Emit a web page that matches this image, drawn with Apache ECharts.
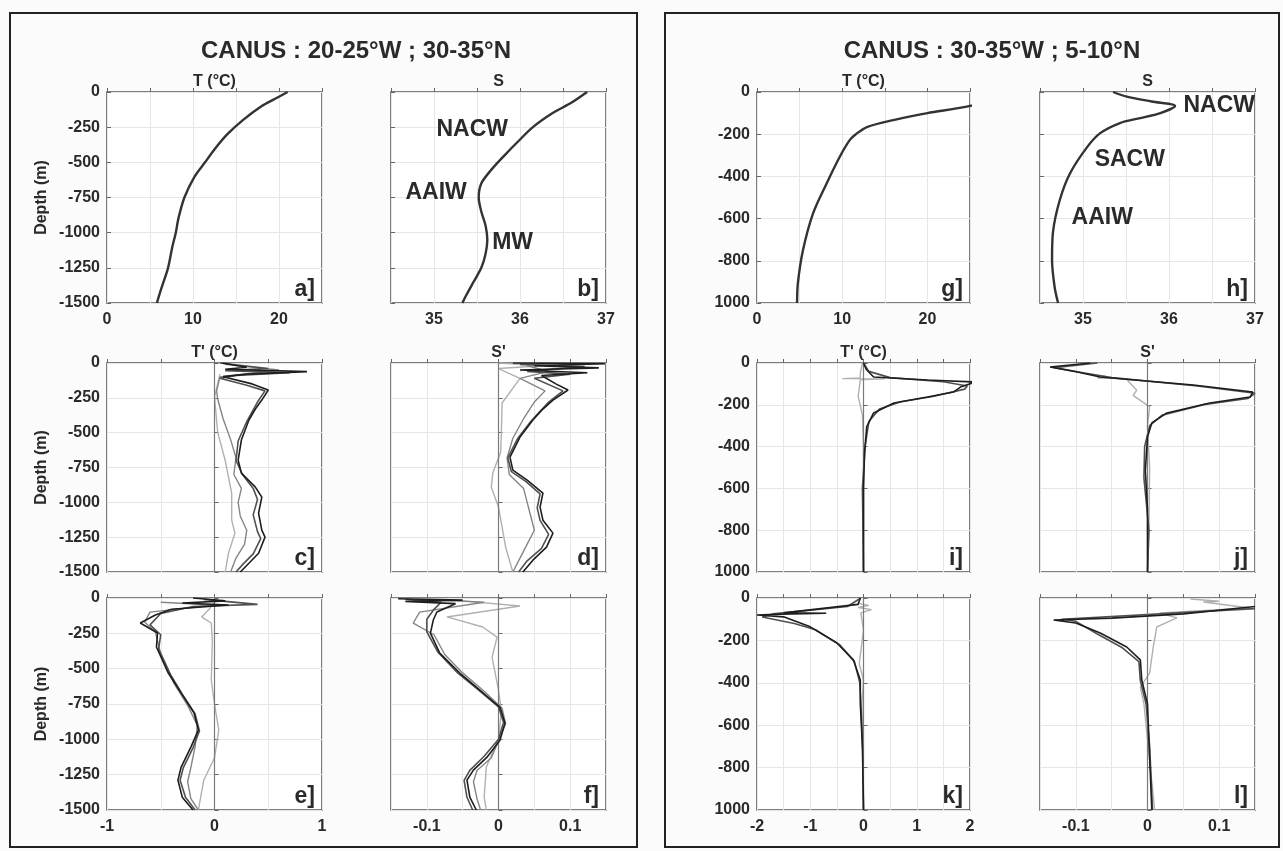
<!DOCTYPE html>
<html><head><meta charset="utf-8">
<script src="https://cdn.jsdelivr.net/npm/echarts/dist/echarts.min.js"></script>
<style>html,body{margin:0;padding:0;background:#fbfbfb}#c{width:1283px;height:851px}</style>
</head><body><div id="c"></div>
<script>
// ---------- DATA ----------
// Panel a: mean temperature profile (20-25W, 30-35N)
const depthA = [0, -50, -100, -200, -300, -400, -500, -600, -750, -900, -1000, -1100, -1250, -1400, -1500];
const tempA  = [21.0, 19.5, 18.0, 15.8, 14.0, 12.6, 11.4, 10.2, 9.0, 8.3, 8.0, 7.6, 7.1, 6.3, 5.8];
// Panel b: mean salinity profile
const depthB = [0, -75, -150, -250, -350, -450, -550, -650, -750, -850, -950, -1050, -1150, -1250, -1350, -1450, -1500];
const salB   = [36.78, 36.6, 36.38, 36.15, 35.98, 35.82, 35.67, 35.55, 35.52, 35.55, 35.6, 35.62, 35.6, 35.55, 35.46, 35.37, 35.33];
const annotB = ['NACW', 'AAIW', 'MW'];
const annotBX = [35.45, 35.03, 35.92];
const annotBY = [-270, -717, -1072];
// Panel g: mean temperature profile (30-35W, 5-10N)
const depthG = [0, -30, -66, -100, -133, -166, -200, -227, -308, -431, -573, -749, -905, -1000];
const tempG  = [27.5, 27, 25, 20, 16, 12.9, 11.6, 10.9, 9.7, 8.2, 6.6, 5.4, 4.8, 4.7];
// Panel h: mean salinity profile
const depthH = [0, -22, -45, -66, -100, -125, -147, -195, -260, -385, -512, -668, -796, -924, -1000];
const salH   = [35.35, 35.51, 35.8, 36.07, 35.9, 35.65, 35.43, 35.2, 35.05, 34.85, 34.73, 34.65, 34.64, 34.67, 34.71];
const annotH = ['NACW', 'SACW', 'AAIW'];
const annotHX = [36.59, 35.55, 35.23];
const annotHY = [-66, -322, -597];

// Perturbation profiles: [value, depth]
const cBlack = [[0.07,0],[0.3,-30],[0.1,-45],[0.86,-62],[0.3,-80],[0.08,-98],[0.35,-150],[0.5,-194],[0.44,-266],[0.38,-330],[0.32,-409],[0.25,-553],[0.22,-697],[0.25,-790],[0.38,-891],[0.44,-963],[0.41,-1078],[0.44,-1200],[0.47,-1250],[0.41,-1365],[0.32,-1437],[0.24,-1500]];
const cDark  = [[0.05,0],[0.5,-40],[0.1,-55],[0.7,-70],[0.2,-90],[0.05,-110],[0.3,-160],[0.47,-200],[0.4,-280],[0.3,-420],[0.22,-560],[0.2,-700],[0.26,-800],[0.36,-900],[0.4,-980],[0.36,-1090],[0.4,-1210],[0.43,-1260],[0.36,-1370],[0.27,-1440],[0.2,-1500]];
const cMid   = [[0.1,-10],[0.6,-50],[0.05,-100],[0.02,-200],[0.03,-260],[0.08,-400],[0.15,-550],[0.2,-680],[0.18,-800],[0.25,-900],[0.22,-1000],[0.24,-1100],[0.3,-1200],[0.28,-1300],[0.2,-1400],[0.15,-1500]];
const cLight = [[0.05,-80],[0.03,-150],[0.0,-242],[0.03,-500],[0.1,-700],[0.16,-935],[0.16,-1128],[0.19,-1221],[0.13,-1365],[0.1,-1500]];

const dBlack = [[0.02,0],[0.149,-5],[0.05,-20],[0.14,-35],[0.03,-50],[0.124,-70],[0.06,-90],[0.08,-150],[0.097,-194],[0.076,-266],[0.06,-340],[0.048,-409],[0.03,-532],[0.016,-675],[0.02,-769],[0.04,-841],[0.062,-934],[0.058,-1034],[0.062,-1128],[0.076,-1221],[0.067,-1322],[0.048,-1415],[0.034,-1500]];
const dDark  = [[0.03,-10],[0.12,-25],[0.04,-60],[0.1,-80],[0.05,-110],[0.09,-200],[0.07,-280],[0.045,-420],[0.027,-540],[0.013,-680],[0.018,-780],[0.038,-850],[0.058,-940],[0.054,-1040],[0.058,-1130],[0.07,-1230],[0.06,-1330],[0.04,-1420],[0.028,-1500]];
const dMid   = [[0.04,-20],[0.07,-60],[0.03,-110],[0.065,-200],[0.05,-280],[0.035,-400],[0.02,-540],[0.012,-680],[0.015,-800],[0.035,-900],[0.04,-1000],[0.045,-1100],[0.05,-1200],[0.04,-1300],[0.03,-1400],[0.02,-1500]];
const dLight = [[0.0,0],[0.06,-20],[0.0,-40],[0.03,-110],[0.005,-287],[0.004,-500],[0.003,-640],[-0.008,-790],[-0.01,-891],[0.0,-1034],[0.005,-1178],[0.01,-1322],[0.02,-1500]];

const eBlack = [[-0.2,0],[0.1,-20],[-0.3,-35],[0.13,-50],[-0.4,-80],[-0.55,-120],[-0.69,-177],[-0.53,-248],[-0.54,-347],[-0.43,-531],[-0.31,-673],[-0.19,-814],[-0.15,-935],[-0.22,-1055],[-0.31,-1196],[-0.34,-1289],[-0.3,-1409],[-0.2,-1500]];
const eDark  = [[-0.1,-10],[0.4,-45],[-0.2,-60],[-0.5,-110],[-0.6,-190],[-0.5,-260],[-0.52,-360],[-0.41,-540],[-0.3,-680],[-0.18,-820],[-0.14,-940],[-0.2,-1060],[-0.29,-1200],[-0.32,-1290],[-0.27,-1410],[-0.18,-1500]];
const eMid   = [[-0.5,-30],[0.0,-50],[-0.6,-100],[-0.65,-170],[-0.55,-240],[-0.5,-400],[-0.38,-600],[-0.25,-760],[-0.16,-900],[-0.18,-1050],[-0.22,-1200],[-0.25,-1300],[-0.22,-1420],[-0.15,-1500]];
const eLight = [[0.0,-30],[-0.05,-80],[-0.12,-134],[-0.03,-177],[-0.02,-300],[-0.03,-580],[0.0,-750],[0.04,-935],[0.0,-1130],[-0.1,-1289],[-0.15,-1500]];

const fBlack = [[-0.14,-5],[-0.05,-15],[-0.13,-25],[-0.06,-40],[-0.086,-99],[-0.091,-156],[-0.095,-248],[-0.082,-390],[-0.054,-531],[-0.026,-652],[0.002,-773],[0.009,-885],[0.002,-1006],[-0.016,-1126],[-0.035,-1218],[-0.044,-1289],[-0.04,-1409],[-0.031,-1500]];
const fDark  = [[-0.13,-10],[-0.08,-30],[-0.09,-80],[-0.1,-150],[-0.1,-240],[-0.085,-380],[-0.057,-530],[-0.028,-650],[0.0,-770],[0.007,-880],[0.0,-1000],[-0.02,-1120],[-0.04,-1220],[-0.048,-1290],[-0.044,-1410],[-0.036,-1500]];
const fMid   = [[-0.1,-10],[-0.02,-30],[-0.11,-100],[-0.119,-177],[-0.09,-260],[-0.075,-400],[-0.05,-530],[-0.02,-660],[0.005,-780],[0.01,-890],[0.0,-1010],[-0.01,-1130],[-0.03,-1220],[-0.035,-1300],[-0.03,-1420],[-0.025,-1500]];
const fLight = [[-0.05,-20],[0.03,-57],[-0.072,-134],[-0.022,-205],[-0.002,-277],[-0.009,-418],[0.0,-652],[0.004,-800],[0.0,-1000],[-0.017,-1196],[-0.02,-1409],[-0.017,-1500]];

const iBlack = [[0,0],[0.05,-30],[0.19,-67],[1.2,-81],[2.1,-91],[1.82,-115],[1.69,-139],[1.2,-163],[0.57,-191],[0.19,-239],[0.06,-306],[0.02,-430],[0.0,-600],[0.0,-800],[0.0,-1000]];
const iDark  = [[0,0],[0.1,-40],[0.5,-70],[1.5,-90],[1.95,-110],[1.9,-125],[1.3,-160],[0.7,-185],[0.3,-220],[0.1,-280],[0.03,-400],[-0.02,-600],[-0.01,-800],[0,-1000]];
const iLight = [[-0.02,0],[-0.06,-50],[-0.06,-72],[-0.4,-75],[0.4,-76],[-0.06,-80],[-0.1,-160],[-0.02,-250],[0.0,-400],[0.0,-1000]];

const jBlack = [[-0.08,0],[-0.136,-19],[-0.098,-43],[-0.066,-67],[0.064,-105],[0.147,-139],[0.143,-163],[0.087,-191],[0.027,-239],[0.006,-287],[0.0,-354],[-0.003,-514],[0.0,-700],[0.0,-1000]];
const jDark  = [[-0.07,0],[-0.13,-22],[-0.09,-47],[-0.05,-70],[0.07,-110],[0.15,-145],[0.14,-170],[0.08,-198],[0.02,-250],[0.003,-300],[-0.004,-400],[-0.005,-550],[0.002,-800],[0.0,-1000]];
const jLight = [[-0.06,-60],[-0.07,-72],[-0.03,-75],[-0.015,-130],[-0.02,-155],[0.003,-210],[0.0,-300],[0.003,-500],[0.002,-800],[0.0,-1000]];

const kBlack = [[-0.06,0],[-0.1,-30],[-1.5,-70],[-0.7,-72],[-1.55,-76],[-2.0,-80],[-1.5,-89],[-1.0,-136],[-0.5,-212],[-0.19,-292],[-0.06,-387],[-0.06,-500],[-0.02,-700],[0.0,-1000]];
const kDark  = [[-0.05,0],[-0.3,-40],[-1.7,-75],[-1.9,-90],[-1.3,-120],[-0.9,-150],[-0.45,-220],[-0.17,-300],[-0.07,-400],[-0.04,-550],[-0.01,-750],[0.0,-1000]];
const kLight = [[-0.12,-24],[0.1,-35],[-0.1,-45],[0.15,-55],[-0.05,-70],[0.0,-150],[-0.08,-310],[0.0,-387],[-0.03,-500],[0.0,-1000]];

const lBlack = [[0.15,-40],[0.05,-75],[-0.05,-95],[-0.131,-104],[-0.1,-118],[-0.066,-165],[-0.029,-231],[-0.01,-292],[-0.008,-387],[0.0,-500],[0.002,-670],[0.006,-1000]];
const lDark  = [[0.15,-50],[-0.12,-100],[-0.1,-110],[-0.07,-170],[-0.035,-235],[-0.012,-300],[-0.01,-390],[-0.002,-500],[0.003,-700],[0.007,-1000]];
const lLight = [[0.06,-5],[0.1,-15],[0.078,-19],[0.143,-47],[0.017,-71],[0.041,-94],[0.013,-136],[0.008,-231],[0.003,-354],[-0.01,-420],[-0.005,-500],[0.004,-800],[0.01,-1000]];

const titleLeft = 'CANUS : 20-25°W ; 30-35°N';
const titleRight = 'CANUS : 30-35°W ; 5-10°N';

// ---------- LAYOUT ----------
const FONT = '"Liberation Sans", Arial, sans-serif';
const TXT = '#2a2a2a';
const colX = [107, 391, 757, 1040];
const colW = [215, 215, 213, 215];
const rowY = [92, 363, 598];
const rowH = [211, 209, 212];
const C_BLACK = '#1e1e1e', C_DARK = '#505050', C_MID = '#858585', C_LIGHT = '#b0b0b0';

const zip = (xs, ys) => xs.map((v, i) => [v, ys[i]]);
const fmtEvery = (step) => (v) => {
  const r = v / step;
  if (Math.abs(r - Math.round(r)) > 1e-6) return '';
  const n = Math.round(r) * step;
  return String(Math.round(n * 1000) / 1000);
};

const panels = [
  {id:'a', col:0, row:0, xr:[0,25,5], xf:fmtEvery(10), deep:1500, ylab:true, xlab:true, sub:'T (°C)', smooth:0.3,
   lines:[[zip(tempA, depthA), '#333', 2.4]]},
  {id:'b', col:1, row:0, xr:[34.5,37,0.5], xf:fmtEvery(1), deep:1500, ylab:false, xlab:true, sub:'S', smooth:0.3,
   lines:[[zip(salB, depthB), '#333', 2.4]], annot:[annotB, annotBX, annotBY]},
  {id:'c', col:0, row:1, xr:[-1,1,0.5], xf:fmtEvery(1), deep:1500, ylab:true, xlab:false, sub:"T' (°C)", zero:true,
   lines:[[cLight,C_LIGHT,1.4],[cMid,C_MID,1.4],[cDark,C_DARK,1.6],[cBlack,C_BLACK,1.6]]},
  {id:'d', col:1, row:1, xr:[-0.15,0.15,0.05], xf:fmtEvery(0.1), deep:1500, ylab:false, xlab:false, sub:"S'", zero:true,
   lines:[[dLight,C_LIGHT,1.4],[dMid,C_MID,1.4],[dDark,C_DARK,1.6],[dBlack,C_BLACK,1.6]]},
  {id:'e', col:0, row:2, xr:[-1,1,0.5], xf:fmtEvery(1), deep:1500, ylab:true, xlab:true, zero:true,
   lines:[[eLight,C_LIGHT,1.4],[eMid,C_MID,1.4],[eDark,C_DARK,1.6],[eBlack,C_BLACK,1.6]]},
  {id:'f', col:1, row:2, xr:[-0.15,0.15,0.05], xf:fmtEvery(0.1), deep:1500, ylab:false, xlab:true, zero:true,
   lines:[[fLight,C_LIGHT,1.4],[fMid,C_MID,1.4],[fDark,C_DARK,1.6],[fBlack,C_BLACK,1.6]]},
  {id:'g', col:2, row:0, xr:[0,25,5], xf:fmtEvery(10), deep:1000, ylab:true, xlab:true, sub:'T (°C)', smooth:0.3,
   lines:[[zip(tempG, depthG), '#333', 2.4]]},
  {id:'h', col:3, row:0, xr:[34.5,37,0.5], xf:fmtEvery(1), deep:1000, ylab:false, xlab:true, sub:'S', smooth:0.3,
   lines:[[zip(salH, depthH), '#333', 2.4]], annot:[annotH, annotHX, annotHY]},
  {id:'i', col:2, row:1, xr:[-2,2,0.5], xf:fmtEvery(1), deep:1000, ylab:true, xlab:false, sub:"T' (°C)", zero:true,
   lines:[[iLight,C_LIGHT,1.4],[iDark,C_DARK,1.6],[iBlack,C_BLACK,1.6]]},
  {id:'j', col:3, row:1, xr:[-0.15,0.15,0.05], xf:fmtEvery(0.1), deep:1000, ylab:false, xlab:false, sub:"S'", zero:true,
   lines:[[jLight,C_LIGHT,1.4],[jDark,C_DARK,1.6],[jBlack,C_BLACK,1.6]]},
  {id:'k', col:2, row:2, xr:[-2,2,0.5], xf:fmtEvery(1), deep:1000, ylab:true, xlab:true, zero:true,
   lines:[[kLight,C_LIGHT,1.4],[kDark,C_DARK,1.6],[kBlack,C_BLACK,1.6]]},
  {id:'l', col:3, row:2, xr:[-0.15,0.15,0.05], xf:fmtEvery(0.1), deep:1000, ylab:false, xlab:true, zero:true,
   lines:[[lLight,C_LIGHT,1.4],[lDark,C_DARK,1.6],[lBlack,C_BLACK,1.6]]}
];

const grid = [], xAxis = [], yAxis = [], series = [], graphic = [];
graphic.push({type:'rect', shape:{x:10, y:13, width:627, height:834}, style:{fill:'none', stroke:'#222', lineWidth:2}, silent:true});
graphic.push({type:'rect', shape:{x:665, y:13, width:614, height:834}, style:{fill:'none', stroke:'#222', lineWidth:2}, silent:true});
graphic.push({type:'text', x:356, y:51, style:{text:titleLeft, font:'bold 24px ' + FONT, fill:TXT, textAlign:'center', textVerticalAlign:'middle'}, silent:true});
graphic.push({type:'text', x:992, y:51, style:{text:titleRight, font:'bold 24px ' + FONT, fill:TXT, textAlign:'center', textVerticalAlign:'middle'}, silent:true});

panels.forEach((p, idx) => {
  const L = colX[p.col], T = rowY[p.row], W = colW[p.col], H = rowH[p.row];
  grid.push({left:L, top:T, width:W, height:H, show:true, borderColor:'#555', borderWidth:1.5, backgroundColor:'#ffffff', containLabel:false});
  xAxis.push({type:'value', gridIndex:idx, min:p.xr[0], max:p.xr[1], interval:p.xr[2], position:'bottom',
    axisLine:{show:false}, axisTick:{show:true, inside:true, length:4, lineStyle:{color:'#666'}},
    axisLabel:{show:p.xlab, formatter:p.xf, fontFamily:FONT, fontWeight:'bold', fontSize:16, color:TXT, margin:9, showMinLabel:true, showMaxLabel:true},
    splitLine:{show:true, lineStyle:{color:'#e6e6e6', width:1}}});
  const yint = p.deep === 1500 ? 250 : 200;
  yAxis.push({type:'value', gridIndex:idx, min:-p.deep, max:0, interval:yint,
    axisLine:{show:false}, axisTick:{show:true, inside:true, length:4, lineStyle:{color:'#666'}},
    axisLabel:{show:p.ylab, fontFamily:FONT, fontWeight:'bold', fontSize:16, color:TXT, margin:7,
      formatter:(v) => (p.deep === 1000 && v === -1000) ? '1000' : String(v)},
    splitLine:{show:true, lineStyle:{color:'#e6e6e6', width:1}},
    name:(p.ylab && p.col === 0) ? 'Depth (m)' : '', nameLocation:'middle', nameGap:57, nameRotate:90,
    nameTextStyle:{fontFamily:FONT, fontWeight:'bold', fontSize:16, color:TXT}});
  p.lines.forEach((ln, k) => {
    const s = {type:'line', xAxisIndex:idx, yAxisIndex:idx, data:ln[0], showSymbol:false, symbol:'none',
      smooth:p.smooth || false, silent:true, clip:true, animation:false, lineStyle:{color:ln[1], width:ln[2]}, z:3 + k};
    if (k === 0 && p.zero) {
      s.markLine = {silent:true, symbol:'none', animation:false, label:{show:false},
        lineStyle:{color:'#7a7a7a', width:1.2, type:'solid'}, data:[{xAxis:0}]};
    }
    series.push(s);
  });
  if (p.annot) {
    const [names, xs, ys] = p.annot;
    series.push({type:'scatter', xAxisIndex:idx, yAxisIndex:idx, symbolSize:1, silent:true, animation:false,
      itemStyle:{color:'rgba(0,0,0,0)'},
      data:names.map((n, i) => ({value:[xs[i], ys[i]], name:n})),
      label:{show:true, position:[0, 0], align:'center', verticalAlign:'middle', formatter:(q) => q.name,
        fontFamily:FONT, fontWeight:'bold', fontSize:23, color:TXT, opacity:1, textBorderWidth:0}, z:10});
  }
  if (p.sub) {
    graphic.push({type:'text', x:L + W / 2, y:T - 10, style:{text:p.sub, font:'bold 16px ' + FONT, fill:TXT, textAlign:'center', textVerticalAlign:'middle'}, silent:true});
  }
  graphic.push({type:'text', x:L + W - 7, y:T + H - 2, style:{text:p.id + ']', font:'bold 23px ' + FONT, fill:TXT, textAlign:'right', textVerticalAlign:'bottom'}, silent:true, z:20});
});

const chart = echarts.init(document.getElementById('c'), null, {renderer:'canvas'});
chart.setOption({backgroundColor:'#fbfbfb', animation:false, grid, xAxis, yAxis, series, graphic});
</script></body></html>
